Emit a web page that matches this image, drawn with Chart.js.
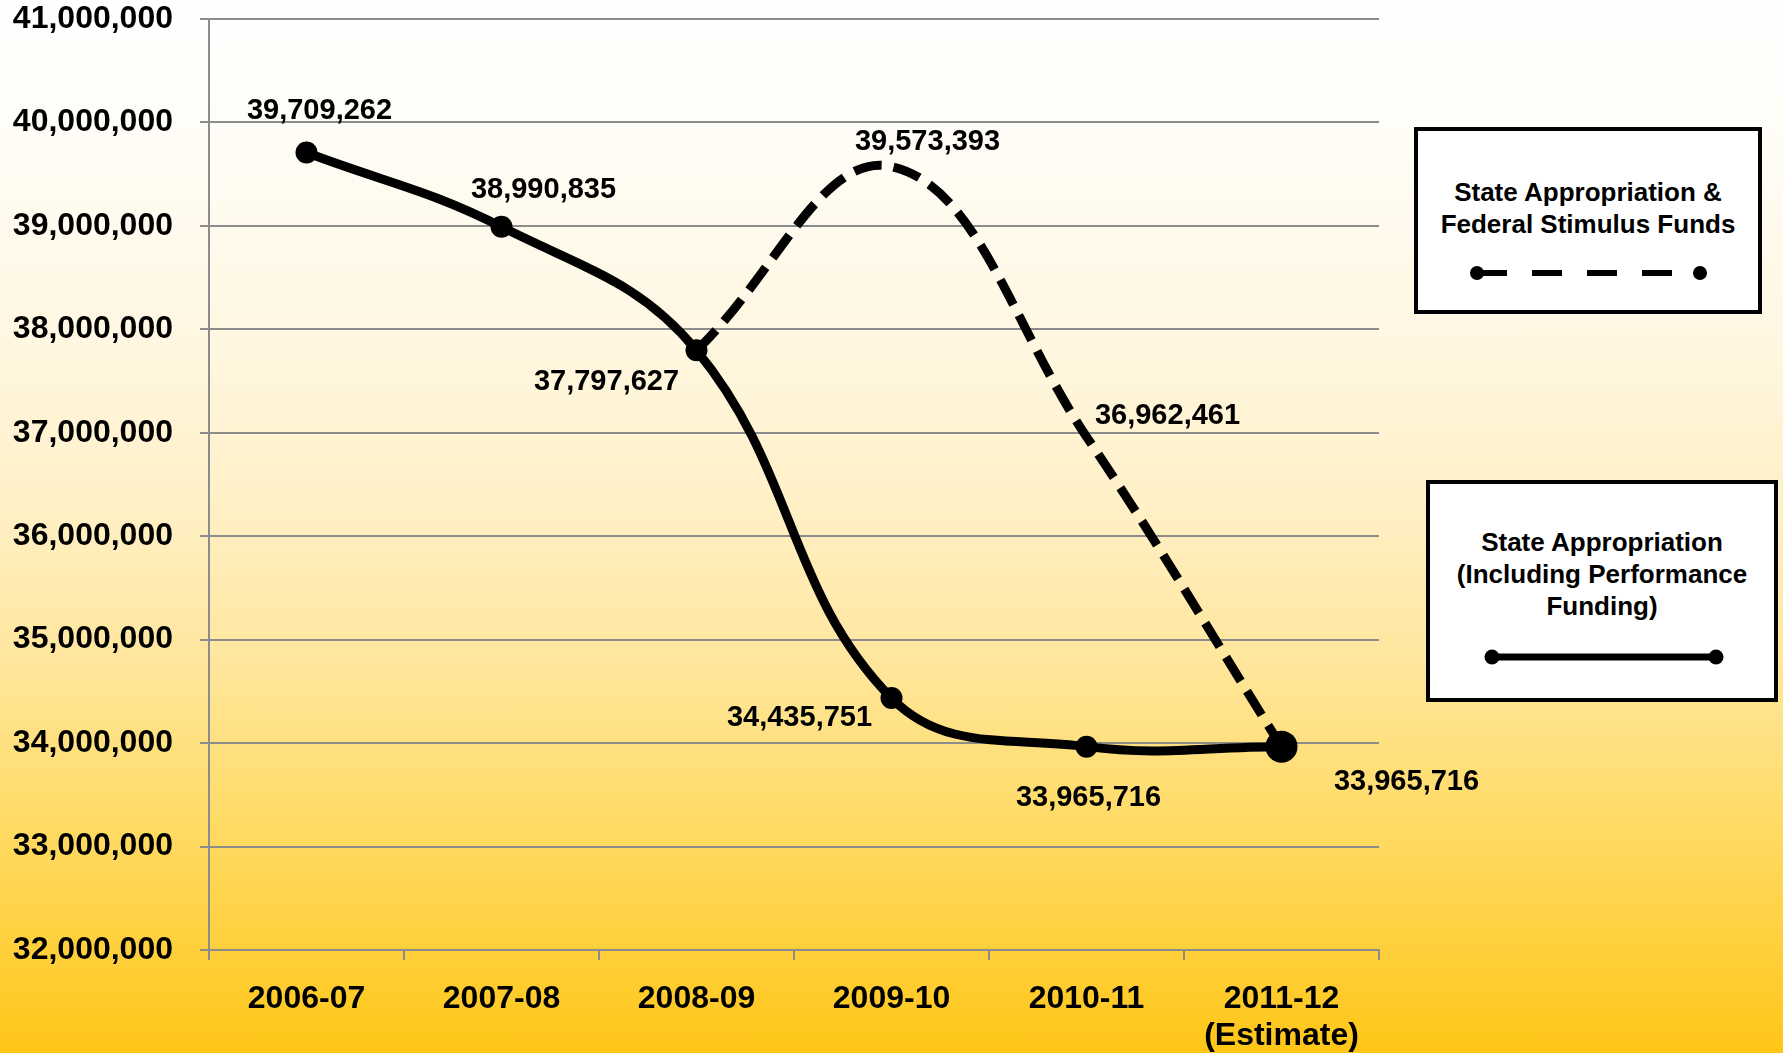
<!DOCTYPE html>
<html>
<head>
<meta charset="utf-8">
<script src="https://cdn.jsdelivr.net/npm/chart.js@4.4.1/dist/chart.umd.min.js"></script>
<style>
  html, body { margin: 0; padding: 0; }
  body {
    width: 1783px; height: 1053px; overflow: hidden; position: relative;
    font-family: "Liberation Sans", Arial, sans-serif;
    background: linear-gradient(to bottom, #ffffff 0%, #fffdf7 12%, #fff7e2 32%, #fff0c6 48%, #ffe69c 63%, #ffdb66 78%, #ffd03c 90%, #ffc617 100%);
  }
  #chart { position: absolute; left: 0; top: 0; }
  .box {
    position: absolute; background: #fff; border: 4px solid #000; box-sizing: border-box;
  }
  .box .txt {
    position: absolute; left: 0; right: 0; text-align: center;
    font-weight: bold; font-size: 26px; color: #000;
  }
  .box svg { position: absolute; left: 0; top: 0; }
</style>
</head>
<body>
<canvas id="chart" width="1783" height="1053"></canvas>

<div class="box" style="left:1414px; top:127px; width:348px; height:187px;">
  <div class="txt" style="top:45px; line-height:32px;">State Appropriation &amp;<br>Federal Stimulus Funds</div>
  <svg width="340" height="179">
    <line x1="59" y1="142" x2="258" y2="142" stroke="#000" stroke-width="6" stroke-dasharray="30 25"/>
    <circle cx="59" cy="142" r="7" fill="#000"/>
    <circle cx="282" cy="142" r="7" fill="#000"/>
  </svg>
</div>

<div class="box" style="left:1426px; top:480px; width:352px; height:222px;">
  <div class="txt" style="top:42px; line-height:32px;">State Appropriation<br>(Including Performance<br>Funding)</div>
  <svg width="344" height="214">
    <line x1="62" y1="173" x2="286" y2="173" stroke="#000" stroke-width="7"/>
    <circle cx="62" cy="173" r="7.5" fill="#000"/>
    <circle cx="286" cy="173" r="7.5" fill="#000"/>
  </svg>
</div>

<script>
const years = ["2006-07", "2007-08", "2008-09", "2009-10", "2010-11", ["2011-12", "(Estimate)"]];
const stateApprop = [39709262, 38990835, 37797627, 34435751, 33965716, 33965716];
const withStimulus = [null, null, 37797627, 39573393, 36962461, 33965716];
const yMin = 32000000, yMax = 41000000, yStep = 1000000;

const fmt = v => v.toLocaleString("en-US");
const FONT = "'Liberation Sans', Arial, sans-serif";

// label offsets from the point (baseline), per dataset index
const labelOffsets = [
  { 3: [36, -17], 4: [81, -13] },
  { 0: [13, -34], 1: [42, -29], 2: [-90, 40], 3: [-92, 28], 4: [2, 59], 5: [125, 43] }
];

const valueLabels = {
  id: "valueLabels",
  afterDatasetsDraw(chart) {
    const ctx = chart.ctx;
    ctx.save();
    ctx.font = "bold 29px " + FONT;
    ctx.fillStyle = "#000";
    ctx.textAlign = "center";
    ctx.textBaseline = "alphabetic";
    chart.data.datasets.forEach((ds, i) => {
      const meta = chart.getDatasetMeta(i);
      const offs = labelOffsets[i];
      Object.keys(offs).forEach(k => {
        const pt = meta.data[k];
        if (!pt || ds.data[k] == null) return;
        ctx.fillText(fmt(ds.data[k]), pt.x + offs[k][0], pt.y + offs[k][1]);
      });
    });
    ctx.restore();
  }
};

new Chart(document.getElementById("chart"), {
  type: "line",
  data: {
    labels: years,
    datasets: [
      {
        label: "State Appropriation & Federal Stimulus Funds",
        data: withStimulus,
        borderColor: "#000",
        borderWidth: 9,
        borderDash: [28, 12],
        borderCapStyle: "butt",
        tension: 0.4,
        pointRadius: [0, 0, 0, 0, 0, 16],
        pointBackgroundColor: "#000",
        pointBorderWidth: 0,
        spanGaps: false,
        clip: false
      },
      {
        label: "State Appropriation (Including Performance Funding)",
        data: stateApprop,
        borderColor: "#000",
        borderWidth: 9,
        tension: 0.4,
        pointRadius: 11,
        pointBackgroundColor: "#000",
        pointBorderWidth: 0,
        clip: false
      }
    ]
  },
  options: {
    responsive: false,
    devicePixelRatio: 1,
    animation: false,
    layout: { padding: { left: 0, right: 404, top: 19, bottom: 0 } },
    plugins: { legend: { display: false }, tooltip: { enabled: false } },
    scales: {
      x: {
        offset: true,
        grid: { offset: true, drawOnChartArea: false, tickLength: 10, color: "#8c8c8c", lineWidth: 2 },
        border: { color: "#8c8c8c", width: 2 },
        ticks: { color: "#000", font: { family: FONT, size: 32, weight: "bold", lineHeight: 1.15 }, padding: 21, maxRotation: 0, autoSkip: false },
        afterFit(s) { s.height = 103; }
      },
      y: {
        min: yMin,
        max: yMax,
        ticks: { stepSize: yStep, color: "#000", font: { family: FONT, size: 32, weight: "bold" }, padding: 27, callback: v => fmt(v) },
        grid: { color: "#8c8c8c", lineWidth: 2, tickLength: 9 },
        border: { color: "#8c8c8c", width: 2 },
        afterFit(s) { s.width = 209; s.paddingTop = 0; s.paddingBottom = 0; }
      }
    }
  },
  plugins: [valueLabels]
});
</script>
</body>
</html>
